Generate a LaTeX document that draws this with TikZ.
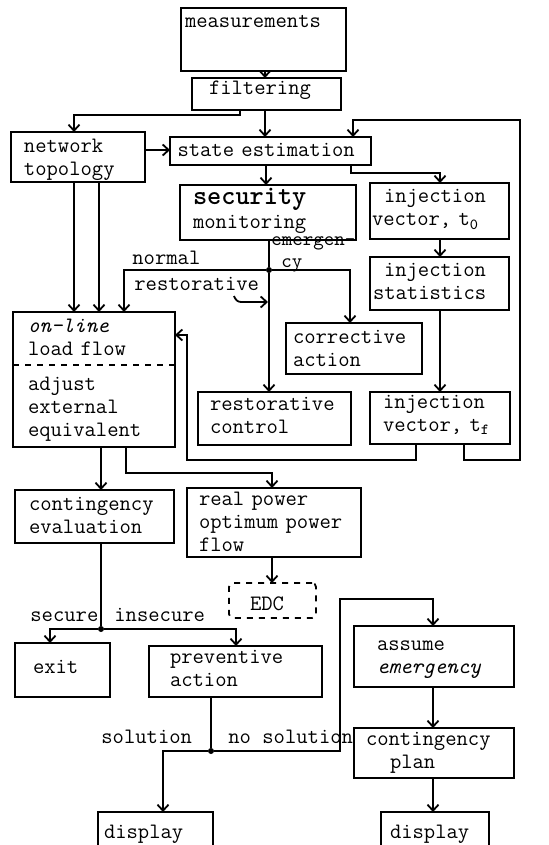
\documentclass[tikz,border=0pt]{standalone}
\usetikzlibrary{positioning,calc,arrows.meta}

\begin{document}
\begin{tikzpicture}[x=0.5pt,y=-0.5pt,>={Straight Barb[length=3pt,width=5.5pt]},
    blk/.style={draw,line width=0.9pt,anchor=north west,inner sep=0pt,outer sep=0pt,align=left,font=\ttfamily\fontsize{11}{11.5}\selectfont},
    dims/.style n args={4}{minimum width=#1pt,text width=#2pt,text height=#3pt,text depth=#4pt},
    con/.style={line width=0.9pt},
    lbl/.style={anchor=base west,inner sep=0pt,font=\ttfamily\fontsize{11}{11.5}\selectfont},
    dot/.style={circle,fill,inner sep=0pt,minimum size=3pt}]
    \useasboundingbox (0,0) rectangle (548,845);

    \node[blk,dims={82.5}{78.5}{10}{21.5}] (meas) at (181,8) {measurements};
    \node[blk,dims={74.5}{57.5}{8.5}{7.5}] (filt) at (192,78) {filtering};
    \node[blk,dims={67}{54}{10.5}{14.5}] (topo) at (11,132) {network\\topology};
    \node[blk,dims={100.5}{93}{10}{4}] (state) at (170,137) {state estimation};
    \node[blk,dims={88}{75}{10}{17.5}] (secu) at (180,185) {{\bfseries\fontsize{13.5}{13.5}\selectfont security}\\[0.5pt]monitoring};
    \node[blk,dims={69.5}{67.5}{10}{18}] (injo) at (370,183) {\hspace*{6pt}injection\\vector, t\textsubscript{0}};
    \node[blk,dims={69.5}{66.5}{10}{16.5}] (injs) at (370,257) {\hspace*{5.5pt}injection\\statistics};
    \node[blk,dims={81}{66}{10}{57.5}] (lflow) at (13,312) {\textit{on-line}\\load flow\\[6pt]adjust\\external\\equivalent};
    \node[blk,dims={68}{61}{10}{15.5}] (corr) at (286,323) {corrective\\action};
    \node[blk,dims={76.5}{64.5}{9}{17.5}] (rest) at (198,392) {restorative\\control};
    \node[blk,dims={70}{57}{8}{18}] (injf) at (370,392) {injection\\vector, t\textsubscript{f}};
    \node[blk,dims={79.5}{65.5}{10}{16.5}] (cont) at (15,490) {contingency\\evaluation};
    \node[blk,dims={87}{75}{8.5}{26}] (rpow) at (187,488) {real power\\optimum power\\flow};
    \node[blk,dashed,rounded corners=2pt,dims={43.5}{22.5}{13.5}{4}] (edc) at (229,583) {EDC};
    \node[blk,dims={47.5}{29.5}{15}{12}] (exit) at (15,643) {exit};
    \node[blk,dims={86.5}{65.5}{8.5}{17}] (prev) at (149,646) {preventive\\action};
    \node[blk,dims={80}{57}{12}{18.5}] (assu) at (354,626) {assume\\\textit{emergency}};
    \node[blk,dims={80}{68}{8.5}{16.5}] (plan) at (354,728) {contingency\\\hspace*{12pt}plan};
    \node[blk,dims={57.5}{51.5}{13}{17}] (displ) at (98,812) {display};
    \node[blk,dims={54}{45}{13}{17}] (dispr) at (381,812) {display};

    \draw[con,dashed] (lflow.west |- 0,365) -- (lflow.east |- 0,365);

    \node[dot] (ja) at (269,270) {};
    \node[dot] (jb) at (101,629) {};
    \node[dot] (jc) at (211,751) {};
    \coordinate (hk) at (268,302);

    \node[lbl] (normal) at (132,264) {normal};
    \node[lbl,text width=50pt,align=left,font=\ttfamily\fontsize{10}{10.5}\selectfont] (emerg) at (271,246) {emergen-\\\hspace*{5pt}cy};
    \node[lbl] (restlbl) at (134,290) {restorative};
    \node[lbl] (secure) at (30,621) {secure};
    \node[lbl] (insecure) at (114,621) {insecure};
    \node[lbl] (solution) at (101,743) {solution};
    \node[lbl] (nosolution) at (228,743) {no solution};

    \draw[con,->] (meas.south -| 265,0) -- (filt.north -| 265,0);
    \draw[con,->] (filt.south -| 265,0) -- (state.north -| 265,0);
    \draw[con,->] (filt.south -| 240,0) -- ++(0,5) -| (topo.north -| 74,0);
    \draw[con,->] (topo.east |- 0,150) -- (state.west |- 0,150);
    \draw[con,->] (injf.south -| 464,0) -- ++(0,16) -| (520,120) -| (state.north -| 353,0);
    \draw[con,->] (injf.south -| 416,0) -- ++(0,16) -| (187,335) -- (lflow.east |- 0,335);
    \draw[con,->] (state.south -| 266,0) -- (secu.north -| 266,0);
    \draw[con,->] (state.south -| 351,0) -- ++(0,8) -| (injo.north -| 440,0);
    \draw[con,->] (injo.south -| 440,0) -- (injs.north -| 440,0);
    \draw[con,->] (injs.south -| 440,0) -- (injf.north -| 440,0);
    \draw[con,->] (topo.south -| 74,0) -- (lflow.north -| 74,0);
    \draw[con,->] (topo.south -| 99,0) -- (lflow.north -| 99,0);
    \draw[con] (secu.south -| ja) -- (ja);
    \draw[con,->] (ja) -| (lflow.north -| 124,0);
    \draw[con,->] (ja) -| (corr.north -| 350,0);
    \draw[con,->] (ja) -- (rest.north -| ja);
    \draw[con,->] ($(hk)+(-34,-6)$) to[out=-70,in=180] ($(hk)+(-27,0)$) -- (hk);
    \draw[con,->] (lflow.south -| 101,0) -- (cont.north -| 101,0);
    \draw[con,->] (lflow.south -| 126,0) -- ++(0,26) -| (rpow.north -| 272,0);
    \draw[con,->] (rpow.south -| 272,0) -- (edc.north -| 272,0);
    \draw[con] (cont.south -| jb) -- (jb);
    \draw[con,->] (jb) -| (exit.north -| 50,0);
    \draw[con,->] (jb) -| (prev.north -| 236,0);
    \draw[con] (prev.south -| jc) -- (jc);
    \draw[con,->] (jc) -| (displ.north -| 163,0);
    \draw[con,->] (jc) -| (340,599) -| (assu.north -| 433,0);
    \draw[con,->] (assu.south -| 433,0) -- (plan.north -| 433,0);
    \draw[con,->] (plan.south -| 433,0) -- (dispr.north -| 433,0);
\end{tikzpicture}
\end{document}
